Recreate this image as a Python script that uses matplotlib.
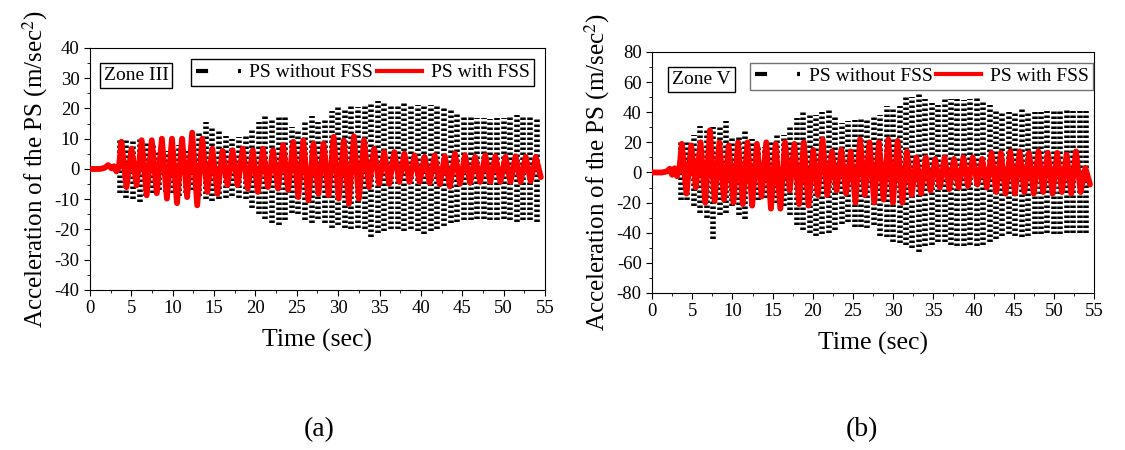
import numpy as np
import matplotlib
matplotlib.use('Agg')
import matplotlib.pyplot as plt
from matplotlib.lines import Line2D
from matplotlib.ticker import MultipleLocator

plt.rcParams['font.family'] = 'Liberation Serif'
plt.rcParams['mathtext.fontset'] = 'stix'
plt.rcParams['axes.unicode_minus'] = False

# ---------------- (a) Zone III ----------------
# red: PS with FSS, small motion before the strong shaking, then peak/trough per cycle
a_pre_t = [0.0, 1.2, 1.8, 2.2, 2.6, 2.9, 3.2, 3.5]
a_pre_v = [0.0, 0.0, 0.4, 1.3, 0.2, 0.9, -0.8, 0.6]
a_red_span = (3.8, 54.5)
a_red_peaks = [9.0, 6.7, 9.5, 9.5, 10, 10, 10, 12, 10, 6.7, 6, 6.2, 6.7, 6.2,
               6.7, 6.2, 7.9, 9, 9.5, 8.4, 8.4, 10.6, 9.5, 10.8, 9.5, 6.7, 5.6,
               5.6, 5.1, 4.5, 4, 4.5, 4.2, 5.1, 4.5, 4, 4.5, 4.2, 4, 4.2, 4, 4]
a_red_troughs = [-6, -5.4, -8.7, -8, -9.8, -11.3, -9.3, -12, -7.6, -8.2, -5.4,
                 -5.4, -6.5, -7.6, -6, -6.5, -7, -9.3, -10.4, -8.2, -8.7, -9.8,
                 -11.5, -9.8, -6, -4.9, -4.9, -4.3, -4.3, -4.3, -4.6, -5.1, -5.8,
                 -4.9, -4.6, -4.3, -4.3, -4.3, -4.3, -4.3, -4, -2.7]
# black: PS without FSS, upper / lower extent sampled every 0.8 s from 3.6 s
a_blk_span = (3.6, 54.0)
a_blk_upper = [9.5, 9.5, 10, 10.5, 9, 8, 6, 6, 7, 8, 6, 7, 12, 15.5, 13.5, 13,
               11, 10, 10.5, 11.5, 13, 15.5, 17.5, 16.5, 18, 17.5, 14, 13, 15.5,
               17.5, 15.5, 17, 19, 20.5, 19.5, 21, 20.5, 21, 22, 22.5, 22, 21.5,
               21, 22, 21, 21, 21.5, 21, 21, 20.5, 19.5, 18.5, 18, 17.5, 17, 17,
               16.5, 17, 17, 17.5, 18, 17.5, 17.5, 17]
a_blk_lower = [-8, -9.5, -10, -11, -9, -8, -7, -7.5, -8, -9, -8, -7, -9, -10,
               -10.5, -10, -9.5, -9, -9.5, -10, -13, -15, -16.5, -18, -18.5, -17,
               -14.5, -15, -17, -18, -16.5, -18, -19.5, -18.5, -19.5, -20, -19.5,
               -20, -22.5, -21, -20.5, -20, -20, -20.5, -20, -20.5, -21.5, -20.5,
               -20, -19, -18, -17.5, -17, -17, -16.5, -16.5, -17, -17, -16.5, -17,
               -17.5, -17, -17, -17.5]

# ---------------- (b) Zone V ----------------
b_pre_t = [0.0, 1.2, 1.8, 2.2, 2.5, 2.8, 3.1, 3.4]
b_pre_v = [0.0, 0.0, 0.6, 2.5, -1.5, 2.8, -2.5, 2.0]
b_red_span = (3.7, 54.5)
b_red_peaks = [19, 18, 20, 28, 20, 18, 20, 20, 19, 20, 19, 20, 19, 20, 15, 22,
               14, 15, 14, 22, 20, 20, 22, 21, 14, 10, 10, 9, 10, 9, 10, 10, 9,
               13, 13, 14, 14, 13, 14, 13, 13, 12, 14, 3]
b_red_troughs = [-14, -10, -20, -19, -18, -20, -21, -22, -16, -24, -24, -12, -21,
                 -22, -15, -15, -12, -14, -20, -15, -20, -18, -20, -20, -15, -14,
                 -12, -10, -11, -10, -9, -8, -10, -13, -14, -14, -13, -14, -13,
                 -14, -13, -14, -13, -8]
b_blk_span = (3.6, 54.0)
b_blk_upper = [20, 20, 25, 31, 29, 30, 31, 34, 24, 24, 28, 22, 18, 17, 20, 25,
               25, 30, 36, 40, 39, 38, 40, 43, 38, 33, 34, 35, 36, 36, 38, 38, 44,
               43, 44, 50, 50, 52, 49, 46, 45, 49, 49, 49, 48, 49, 50, 48, 45, 42,
               41, 40, 41, 42, 41, 40, 40, 41, 42, 41, 42, 41, 41, 41]
b_blk_lower = [-18, -18, -22, -27, -30, -44, -28, -27, -22, -28, -31, -22, -18,
               -17, -18, -20, -22, -28, -35, -38, -40, -42, -41, -40, -38, -34,
               -33, -36, -36, -37, -35, -42, -43, -46, -47, -48, -50, -53, -49,
               -48, -46, -46, -48, -49, -49, -48, -49, -48, -46, -44, -42, -41,
               -42, -43, -42, -41, -41, -40, -41, -41, -40, -40, -40, -40]

labels = ['PS without FSS', 'PS with FSS']


def draw_panel(ax, pre_t, pre_v, red_span, peaks, troughs, blk_span, upper, lower,
               ylim, ystep, zone, zone_x, legend_edge):
    # black columns (dashed, dense response without FSS)
    bt = np.linspace(blk_span[0], blk_span[1], len(upper))
    ax.vlines(bt, lower, upper, colors='k', linewidth=4.0,
              linestyles=[(0, (0.45, 0.45))], zorder=2)
    # red line: pre-event motion then alternating peaks/troughs
    ext = np.ravel(np.column_stack([peaks, troughs]))
    rt = np.linspace(red_span[0], red_span[1], len(ext))
    t = np.concatenate([pre_t, rt])
    v = np.concatenate([pre_v, ext])
    ax.plot(t, v, color='red', lw=4.2, solid_joinstyle='round',
            solid_capstyle='round', zorder=3)

    ax.set_xlim(0, 55)
    ax.set_ylim(*ylim)
    ax.xaxis.set_major_locator(MultipleLocator(5))
    ax.xaxis.set_minor_locator(MultipleLocator(2.5))
    ax.yaxis.set_major_locator(MultipleLocator(ystep))
    ax.yaxis.set_minor_locator(MultipleLocator(ystep / 2))
    ax.tick_params(which='both', direction='out', top=False, right=False,
                   labelsize=13.5)
    ax.tick_params(which='major', length=4)
    ax.tick_params(which='minor', length=2)
    ax.set_xlabel('Time (sec)', fontsize=18.5, labelpad=8)
    ax.set_ylabel(r'Acceleration of the PS (m/sec$^{2}$)', fontsize=18, labelpad=3)

    ax.text(zone_x, 0.885, zone, transform=ax.transAxes, fontsize=14,
            va='center', ha='left',
            bbox=dict(boxstyle='square,pad=0.2', fc='white', ec='k', lw=1))
    handles = [Line2D([], [], color='k', lw=3, linestyle=(0, (2.9, 7.2, 0.72, 7.2))),
               Line2D([], [], color='red', lw=3)]
    leg = ax.legend(handles, labels, loc='upper left', bbox_to_anchor=(0.222, 0.955),
                    ncol=2, fancybox=False, edgecolor=legend_edge, fontsize=14,
                    handlelength=2.3, handletextpad=0.45, columnspacing=0.2,
                    borderpad=0.25, borderaxespad=0, framealpha=1)
    leg.get_frame().set_linewidth(1.0)


fig = plt.figure(figsize=(11.25, 4.5), dpi=100)
ax1 = fig.add_axes([0.080, 0.3556, 0.4044, 0.5378])
ax2 = fig.add_axes([0.5796, 0.3489, 0.3929, 0.5356])

draw_panel(ax1, a_pre_t, a_pre_v, a_red_span, a_red_peaks, a_red_troughs,
           a_blk_span, a_blk_upper, a_blk_lower, (-40, 40), 10, 'Zone III', 0.03, 'k')
draw_panel(ax2, b_pre_t, b_pre_v, b_red_span, b_red_peaks, b_red_troughs,
           b_blk_span, b_blk_upper, b_blk_lower, (-80, 80), 20, 'Zone V', 0.045, '0.45')

fig.text(0.284, 0.045, '(a)', fontsize=20, ha='center', va='center')
fig.text(0.766, 0.045, '(b)', fontsize=20, ha='center', va='center')

fig.savefig('out.png', dpi=100)
